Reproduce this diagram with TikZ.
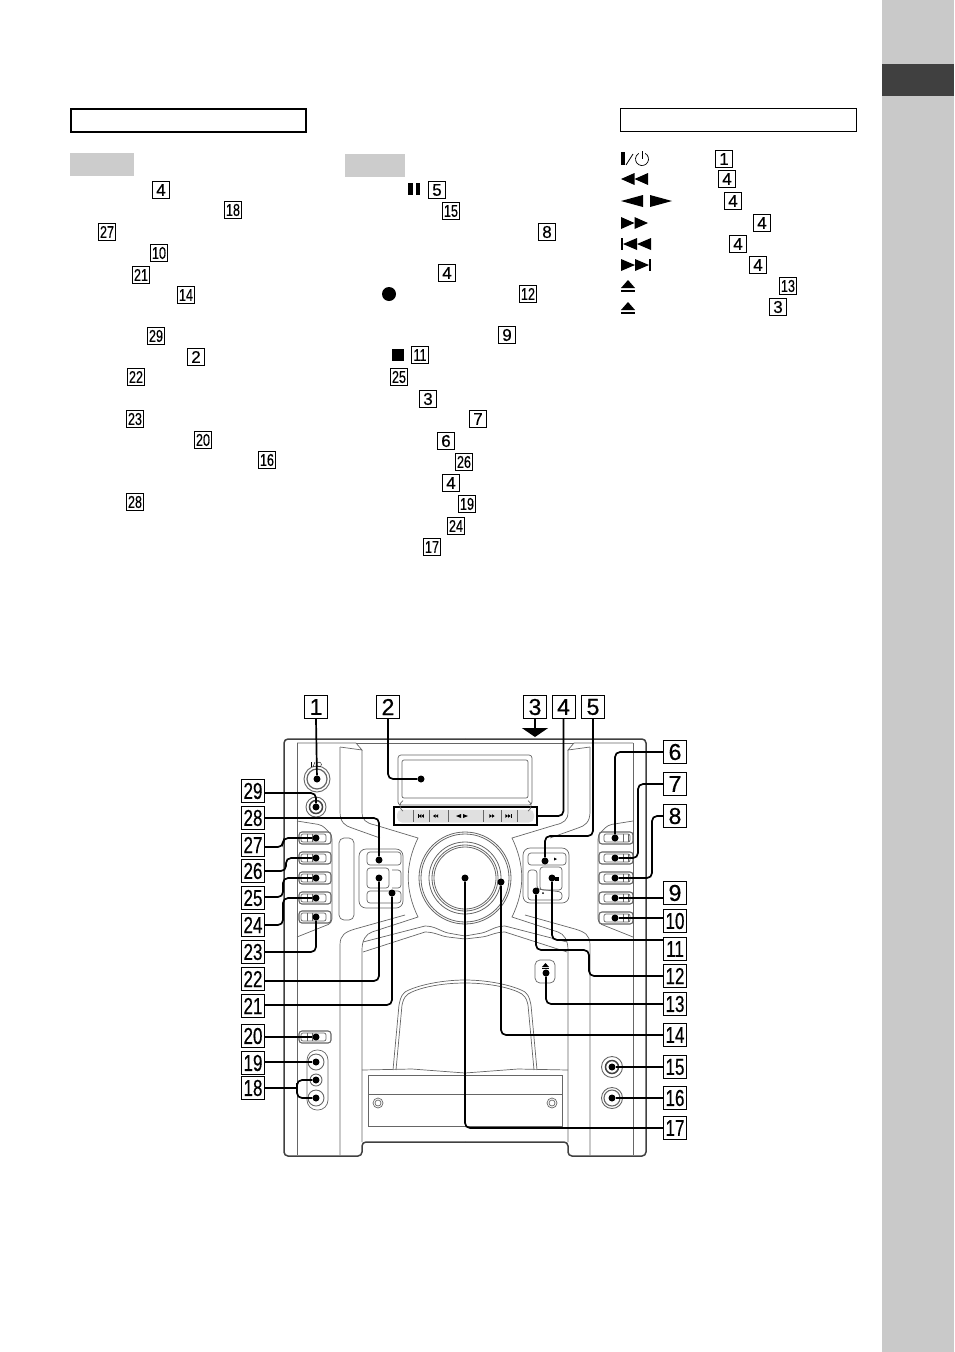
\documentclass[tikz,border=0pt]{standalone}
\usepackage{fontspec}
\setmainfont{Liberation Sans}
\newfontfamily\numfont[FakeBold=.6]{Liberation Sans}
\usetikzlibrary{arrows.meta}

\newcommand{\numlabel}[1]{\ifnum#1>9 \scalebox{.74}[1]{#1}\else #1\fi}
\newcommand{\ltri}[4]{\fill (#1,#2) -- (#1+#3,#2-#4) -- (#1+#3,#2+#4) -- cycle;}
\newcommand{\rtri}[4]{\fill (#1,#2) -- (#1-#3,#2-#4) -- (#1-#3,#2+#4) -- cycle;}

\tikzset{
    bignum/.style={draw,line width=1pt,fill=white,minimum size=23pt,inner sep=0pt,font=\numfont\fontsize{23}{23}\selectfont},
    smallnum/.style={draw,line width=.85pt,minimum size=17.5pt,inner sep=0pt,font=\numfont\fontsize{17}{17}\selectfont},
    headbox/.style={draw,line width=1.1pt,minimum height=23pt,inner sep=0pt},
    tagbox/.style={fill=black!20,inner sep=0pt,minimum height=23pt},
    hotspot/.style={circle,fill=black,inner sep=0pt,minimum size=7pt},
    callout/.style={draw,line width=1.7pt,rounded corners=5pt},
    caseline/.style={draw=black!60,line width=.7pt},
    caseedge/.style={draw=black!75,line width=1.5pt}
}

\begin{document}
\begin{tikzpicture}[x=1pt,y=-1pt]
    \useasboundingbox (0,0) rectangle (954,1352);

    % side tab
    \fill[black!21] (882,0) rectangle (954,1352);
    \fill[black!75] (882,64) rectangle (954,96);

    % heads of the lists
    \node (headleft) [headbox,minimum width=235pt] at (188.5,120.5) {};
    \node (headright) [headbox,minimum width=236pt] at (738.5,120) {};
    \node (tagleft) [tagbox,minimum width=64pt] at (102,164.5) {};
    \node (tagmid) [tagbox,minimum width=60pt] at (374.5,165.5) {};

    \foreach \n/\x/\y [count=\k] in {4/161/190,18/233/210,27/107/232,10/159/253,21/141/275,14/186/295,
        29/156/336,2/196/357,22/136/377,23/135/419,20/203/440,16/267/460,28/135/502,
        5/437/190,15/451/211,8/547/232,4/447/273,12/528/294,9/507/335,11/420/355,25/399/377,
        3/428/399,7/478/419,6/446/441,26/464/462,4/451/483,19/467/504,24/456/526,17/432/547,
        1/724/159,4/727/179,4/733/201,4/762/223,4/738/244,4/758/265,13/788/286,3/778/307}
        \node (ref\k) [smallnum] at (\x,\y) {\numlabel{\n}};

    % symbols in the lists
    \fill (408,183) rectangle (412.5,195);
    \fill (415.5,183) rectangle (420,195);
    \fill (389,294) circle [radius=7];
    \fill (392,349) rectangle (404,361);
    \fill (621,152) rectangle (624.5,165);
    \draw[line width=.8pt] (626,165) -- (633,154);
    \draw[line width=.7pt] (645.25,153.4) arc [start angle=-60,end angle=240,radius=6.5];
    \draw[line width=.7pt] (642,151) -- (642,159);
    \ltri{621}{179}{13.5}{6}
    \ltri{634.5}{179}{13.5}{6}
    \ltri{621}{201}{22}{6}
    \rtri{672}{201}{22}{6}
    \rtri{634.5}{223}{13.5}{6}
    \rtri{648}{223}{13.5}{6}
    \fill (621,238) rectangle (623,250);
    \ltri{623}{244}{14}{6}
    \ltri{637}{244}{14}{6}
    \rtri{635}{265}{14}{6}
    \rtri{649}{265}{14}{6}
    \fill (649,259) rectangle (651,271);
    \foreach \y in {280,302} {
        \fill (621,\y+8) -- (628,\y) -- (635,\y+8) -- cycle;
        \fill (621,\y+10) rectangle (635,\y+12);
    }

    % the case, left half and mirrored
    \foreach \m/\f in {0/1,930/-1} {
        \begin{scope}[xshift=\m pt,xscale=\f]
            \draw[caseedge,rounded corners=4pt] (465,739) -- (284,739) -- (284,1156) -- (362,1156) -- (362,1142) -- (465,1142);
            \draw[caseline] (297,743) -- (356,743) -- (362,750) -- (340,747);
            \draw[caseline] (356,743) -- (465,743);
            \draw[caseline] (297,743) -- (297,1155);
            \draw[caseline] (340,747) -- (340,812) .. controls (340,822) and (345,826) .. (352,828) -- (380,838);
            \draw[caseline] (362,750) -- (362,812) .. controls (362,820) and (366,823) .. (375,825) -- (418,838) .. controls (405,865) and (405,890) .. (418,917)
                -- (372,932) .. controls (366,934) and (362,940) .. (362,950) -- (362,1142);
            \draw[caseline] (340,1155) -- (340,945) .. controls (340,935) and (345,932) .. (355,929) -- (405,915);
            \draw[caseline] (363,942) -- (425,926) .. controls (435,926) and (440,931) .. (448,933) -- (465,936);
            \draw[caseline] (363,952) -- (425,932) .. controls (435,932) and (440,936) .. (448,937) -- (465,939);
            \draw[caseline] (465,980) .. controls (440,980) and (415,986) .. (405,992) .. controls (400,996) and (400,1002) .. (399,1005) -- (393,1070);
            \draw[caseline] (465,983) .. controls (440,983) and (418,988) .. (408,994) .. controls (403,998) and (403,1002) .. (402,1005) -- (396,1070);
            \draw[caseline] (362,1070) -- (412,1069) -- (465,1073);
            \draw[caseline] (368,1075) -- (465,1075);
            \draw[caseline] (368,1075) -- (368,1126) -- (465,1126);
            \draw[caseline] (368,1094) -- (465,1094);
            \draw[caseline] (378,1103) circle [radius=5];
            \draw[caseline] (378,1103) circle [radius=3];
            \draw[caseline,rounded corners=4pt] (297,821) -- (322,825) -- (332,835) -- (332,923) -- (297,937);
        \end{scope}
    }

    % slider buttons
    \foreach \y in {838,858,878,898,917,1037} {
        \draw[caseline,rounded corners=3pt,line width=1.1pt] (299,\y-6) rectangle (331,\y+6);
        \draw[caseline,rounded corners=2pt] (301,\y-4) rectangle (326,\y+4);
        \draw[caseline] (307,\y-4) -- (307,\y+4);
        \draw[caseline] (312,\y-4) -- (312,\y+4);
    }
    \foreach \y in {838,858,878,898,918} {
        \draw[caseline,rounded corners=3pt,line width=1.1pt] (599,\y-6) rectangle (633,\y+6);
        \draw[caseline,rounded corners=2pt] (604,\y-4) rectangle (630,\y+4);
        \draw[caseline] (623,\y-4) -- (623,\y+4);
        \draw[caseline] (628,\y-4) -- (628,\y+4);
    }
    \draw[caseline,rounded corners=5pt] (339,838) rectangle (354,920);

    % display
    \draw[caseline,rounded corners=3pt] (398,755) rectangle (532,805);
    \draw[caseline,rounded corners=2pt] (402,760) rectangle (528,798);

    % transport bar
    \node (bar) [draw,line width=2pt,minimum width=143pt,minimum height=18pt,inner sep=0pt] at (465.5,816) {};
    \fill[black!12,rounded corners=5pt] (397,809.5) rectangle (534,822.5);
    \foreach \x in {413,429,448,483,501,517}
        \draw[caseline] (\x,810) -- (\x,822);
    \draw[caseline] (403,811) arc [start angle=120,end angle=240,radius=6];
    \draw[caseline] (528,811) arc [start angle=60,end angle=-60,radius=6];
    \fill (418,814) rectangle (418.7,818);
    \ltri{418.7}{816}{2.6}{1.8}
    \ltri{421.3}{816}{2.6}{1.8}
    \ltri{433}{816}{2.6}{1.8}
    \ltri{435.6}{816}{2.6}{1.8}
    \ltri{456}{816}{5}{2}
    \rtri{468}{816}{5}{2}
    \rtri{492}{816}{2.6}{1.8}
    \rtri{494.6}{816}{2.6}{1.8}
    \rtri{508}{816}{2.6}{1.8}
    \rtri{510.6}{816}{2.6}{1.8}
    \fill (510.6,814) rectangle (511.3,818);

    % big knob
    \foreach \r in {46,44,36,33,31}
        \draw[caseline,line width=.8pt] (465,878) circle [radius=\r];

    % left keys
    \draw[caseline,rounded corners=7pt] (359,849) rectangle (403,908);
    \draw[caseline,rounded corners=3pt] (367,852) rectangle (401,865);
    \draw[caseline,rounded corners=3pt] (367,868) rectangle (389,888);
    \draw[caseline,rounded corners=3pt] (367,891) rectangle (401,903);
    \draw[caseline,rounded corners=3pt] (392,870) -- (401,870) -- (401,888) -- (392,888);

    % right keys
    \draw[caseline,rounded corners=7pt] (523,848) rectangle (569,903);
    \draw[caseline,rounded corners=3pt] (528,853) rectangle (566,865);
    \draw[caseline,rounded corners=3pt] (540,867) rectangle (562,890);
    \draw[caseline,rounded corners=3pt] (528,870) -- (537,870) -- (537,889) -- (562,892) -- (562,900) -- (528,900) -- cycle;
    \rtri{557}{859}{3}{1.5}
    \fill (555,877) rectangle (559,881);
    \fill (543,893) circle [radius=1];

    % eject key
    \draw[caseline,rounded corners=5pt] (535,960) rectangle (555,983);
    \fill (542,967) -- (545.5,963) -- (549,967) -- cycle;
    \fill (542,968) rectangle (549,969);

    % knobs and jacks
    \draw[caseline,line width=.9pt] (317,779) circle [radius=13];
    \draw[caseline,line width=1.2pt] (317,779) circle [radius=10];
    \fill (311,762) rectangle (311.8,767);
    \draw[line width=.4pt] (313,767) -- (315,762);
    \draw[line width=.4pt] (319,764.5) circle [radius=2.4];
    \draw[caseline,line width=.9pt] (316,807) circle [radius=10];
    \draw[caseedge] (316,807) circle [radius=6.5];
    \draw[caseline,rounded corners=10pt] (307,1050) rectangle (328,1110);
    \draw[caseline,line width=.9pt] (316,1062) circle [radius=8];
    \draw[caseline,line width=.9pt] (316,1080) circle [radius=6];
    \draw[caseline,line width=.9pt] (316,1098) circle [radius=8];
    \draw[caseline,line width=.9pt] (612,1067) circle [radius=10.5];
    \draw[caseedge] (612,1067) circle [radius=6.5];
    \draw[caseline,line width=.9pt] (612,1098) circle [radius=10.5];
    \draw[caseline,line width=1.1pt] (612,1098) circle [radius=8];

    % number boxes
    \foreach \n/\x/\y in {1/316/707,2/388/707,3/535/707,4/563.5/707,5/593/707,
        6/675/752,7/675/784,8/675/816,9/675/893,10/675/921,11/675/949,12/675/976,13/675/1004,
        14/675/1035,15/675/1067,16/675/1098,17/675/1128,
        29/253/791,28/253/818,27/253/845,26/253/871,25/253/898,24/253/925,23/253/952,22/253/979,
        21/253/1006,20/253/1036,19/253/1063,18/253/1088}
        \node (num\n) [bignum] at (\x,\y) {\numlabel{\n}};

    % hotspots
    \foreach \n/\x/\y in {1/317/779,2/421/779,5/545/861,6/615/838,7/615/858,8/615/878,9/615/898,10/615/918,
        11/552/878,12/536/891,13/546/973,14/501/882,15/612/1067,16/612/1098,17/465/878,
        19/316/1062,18a/316/1080,18b/316/1098,20/316/1037,21/392/893,22/379/878,23/316/917,
        24/316/898,25/316/878,26/316/858,27/316/838,28/379/860,29/316/807}
        \node (dot\n) [hotspot] at (\x,\y) {};
    \coordinate (tip3) at (535,737);
    \coordinate (fork18) at (297,1088);

    % leader lines
    \draw[callout] (num1.south) -- (dot1);
    \draw[callout] (num2.south) |- (dot2);
    \draw[line width=1.7pt,-{Triangle[width=26pt,length=9pt]}] (num3.south) -- (tip3);
    \draw[callout] (num4.south) |- (bar.east);
    \draw[callout] (num5.south) |- (545,836) -- (dot5);
    \draw[callout] (num6.west) -| (dot6);
    \draw[callout] (num7.west) -- (638,784) |- (dot7);
    \draw[callout] (num8.west) -- (652,816) |- (dot8);
    \draw[callout] (num9.west |- dot9) -- (dot9);
    \draw[callout] (num10.west |- dot10) -- (dot10);
    \draw[callout] (dot11) |- (num11.west |- 0,940);
    \draw[callout] (dot12) |- (589,950) |- (num12.west);
    \draw[callout] (dot13) |- (num13.west);
    \draw[callout] (dot14) |- (num14.west);
    \draw[callout] (num15.west) -- (dot15);
    \draw[callout] (num16.west) -- (dot16);
    \draw[callout] (dot17) |- (num17.west);
    \draw[callout] (num18.east) -- (fork18);
    \draw[callout] (dot18a) -| (fork18) |- (dot18b);
    \draw[callout] (num19.east |- dot19) -- (dot19);
    \draw[callout] (num20.east |- dot20) -- (dot20);
    \draw[callout] (num21.east |- 0,1005) -| (dot21);
    \draw[callout] (num22.east |- 0,981) -| (dot22);
    \draw[callout] (num23.east) -| (dot23);
    \draw[callout] (num24.east) -- (283,925) |- (dot24);
    \draw[callout] (num25.east |- 0,897) -- (283,897) |- (dot25);
    \draw[callout] (num26.east) -- (286,871) |- (dot26);
    \draw[callout] (num27.east |- 0,847) -- (283,847) |- (dot27);
    \draw[callout] (num28.east) -| (dot28);
    \draw[callout] (num29.east |- 0,793) -| (dot29);
\end{tikzpicture}
\end{document}
